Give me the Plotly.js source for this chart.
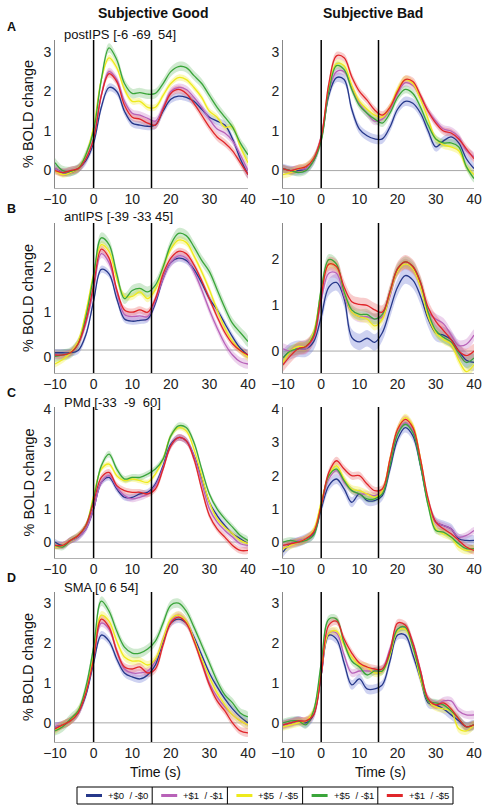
<!DOCTYPE html>
<html><head><meta charset="utf-8">
<script src="https://cdn.plot.ly/plotly-3.0.1.min.js"></script>
<style>html,body{margin:0;padding:0;background:#fff;} #chart{width:490px;height:811px;}</style>
</head><body><div id="chart"></div>
<script>
// ---------------- DATA ----------------
const time = [-10,-8,-6,-4,-2,0,2,4,6,8,10,12,14,16,18,20,22,24,26,28,30,32,34,36,38,40];
const seriesNames = ['+$0\u00a0\u00a0/ -$0','+$1\u00a0\u00a0/ -$1','+$5\u00a0\u00a0/ -$5','+$5\u00a0\u00a0/ -$1','+$1\u00a0\u00a0/ -$5'];
const columnTitles = ['Subjective Good','Subjective Bad'];
const panelLetters = ['A','B','C','D'];
const regionLabels = ['postIPS [-6 -69\u00a0\u00a054]','antIPS [-39 -33 45]','PMd [-33\u00a0\u00a0-9\u00a0\u00a060]','SMA [0 6 54]'];
const xTickVals = [-10,0,10,20,30,40];
const yTickVals = [[0,1,2,3],[0,1,2],[0,1,2,3,4],[0,1,2,3]];
const onsetTimes = [0,15];
const baselineLevels = [[0,0],[0.16,0],[0,0],[0,0]];

// series order: +$0/-$0, +$1/-$1, +$5/-$5, +$5/-$1, +$1/-$5
const A_good = [
 [0.05,-0.05,-0.05,0.05,0.25,0.7,1.6,2.1,2.0,1.5,1.2,1.15,1.12,1.15,1.5,1.8,1.88,1.85,1.75,1.55,1.35,1.25,1.15,0.8,0.3,-0.1],
 [0.05,-0.05,0,0.05,0.3,0.8,1.9,2.5,2.3,1.75,1.45,1.4,1.32,1.25,1.6,2.0,2.1,2.05,1.85,1.6,1.3,1.05,0.95,0.75,0.4,0.0],
 [0.0,-0.1,-0.05,0.05,0.4,1.1,2.3,2.85,2.6,2.05,1.75,1.75,1.6,1.6,1.9,2.2,2.35,2.3,2.1,1.85,1.5,1.35,1.1,1.1,0.6,0.2],
 [0.2,0.0,-0.02,0.05,0.4,1.0,2.3,3.1,2.8,2.2,1.95,1.97,1.93,1.95,2.2,2.5,2.63,2.6,2.4,2.2,1.9,1.6,1.35,1.1,0.7,0.4],
 [0.0,-0.05,0.0,0.05,0.3,0.8,1.9,2.45,2.25,1.65,1.35,1.3,1.2,1.15,1.55,1.95,2.05,1.95,1.7,1.4,1.1,0.85,0.7,0.5,0.2,-0.1]
];
const A_bad = [
 [0.05,0.0,0.0,0.05,0.25,0.8,1.9,2.35,2.3,1.55,1.05,0.88,0.8,0.8,1.1,1.55,1.75,1.7,1.45,1.0,0.6,0.75,0.85,0.7,0.3,0.05],
 [0.05,0.0,0.05,0.05,0.3,0.85,2.0,2.5,2.5,2.1,1.7,1.45,1.25,1.3,1.55,1.95,2.22,2.15,1.85,1.5,1.25,1.05,1.0,0.85,0.5,0.35],
 [-0.1,-0.05,0.05,0.1,0.3,0.8,2.1,2.7,2.65,2.15,1.75,1.55,1.4,1.35,1.6,2.05,2.3,2.2,1.8,1.3,0.8,0.65,0.6,0.5,0.1,-0.1],
 [0.05,0.0,-0.05,0.0,0.25,0.75,2.0,2.65,2.55,2.05,1.65,1.45,1.3,1.2,1.45,1.85,2.05,1.95,1.6,1.15,0.8,0.7,0.7,0.6,0.1,-0.2],
 [0.05,0.0,0.05,0.1,0.3,0.85,2.2,2.9,2.85,2.37,2.0,1.78,1.53,1.4,1.6,2.0,2.3,2.25,1.9,1.5,1.2,1.0,0.95,0.8,0.55,0.3]
];
const B_good = [
 [0.1,0.1,0.1,0.15,0.5,1.25,1.95,1.85,1.3,0.85,0.8,0.82,0.85,1.2,1.75,2.1,2.2,2.15,1.95,1.65,1.3,1.05,0.75,0.45,0.2,0.05],
 [0.05,0.05,0.1,0.3,0.75,1.5,2.3,2.1,1.45,0.95,0.9,0.92,0.9,1.25,1.75,2.1,2.25,2.2,1.9,1.5,1.05,0.65,0.3,0.05,-0.1,-0.15],
 [-0.15,-0.05,0.1,0.35,1.0,1.85,2.5,2.35,1.75,1.35,1.35,1.45,1.3,1.5,2.0,2.4,2.6,2.55,2.25,1.9,1.5,1.05,0.65,0.35,0.15,0.0],
 [0.02,0.05,0.1,0.3,0.9,1.8,2.65,2.5,1.85,1.3,1.48,1.53,1.45,1.6,2.0,2.5,2.75,2.7,2.45,2.15,1.9,1.5,1.1,0.75,0.55,0.35],
 [0.05,0.05,0.1,0.3,0.8,1.6,2.4,2.2,1.5,1.05,1.0,1.05,1.0,1.3,1.85,2.2,2.35,2.3,2.05,1.7,1.3,0.9,0.55,0.3,0.15,0.05]
];
const B_bad = [
 [-0.15,0.0,0.05,0.05,0.2,0.75,1.4,1.5,1.15,0.3,0.2,0.28,0.19,0.4,0.9,1.4,1.65,1.55,1.2,0.7,0.4,0.35,0.25,0.0,-0.2,-0.25],
 [0.05,0.0,0.05,0.05,0.3,1.1,1.7,1.7,1.2,0.85,0.75,0.75,0.7,0.75,1.2,1.75,1.9,1.8,1.45,0.85,0.7,0.6,0.35,0.12,0.15,0.35],
 [-0.25,0.0,0.1,0.1,0.4,1.3,1.9,1.85,1.3,0.85,0.75,0.7,0.55,0.7,1.25,1.75,1.9,1.8,1.4,0.75,0.4,0.25,0.15,-0.2,-0.45,-0.3],
 [-0.15,0.0,0.05,0.1,0.35,1.35,2.0,1.9,1.3,0.9,0.8,0.8,0.7,0.8,1.3,1.8,1.95,1.85,1.5,0.85,0.45,0.3,0.2,-0.05,-0.25,-0.15],
 [-0.3,-0.1,0.05,0.1,0.3,1.2,1.9,1.85,1.4,1.08,1.02,1.0,0.9,0.85,1.3,1.8,1.95,1.85,1.5,0.95,0.65,0.45,0.25,0.0,-0.1,0.0]
];
const C_good = [
 [0.0,-0.1,0.05,0.15,0.4,1.0,1.8,1.95,1.6,1.35,1.35,1.45,1.5,1.75,2.3,2.95,3.15,3.05,2.6,1.95,1.2,0.8,0.5,0.25,0.1,-0.05],
 [-0.1,-0.1,0.05,0.15,0.4,1.0,1.8,2.0,1.65,1.4,1.3,1.35,1.45,1.7,2.25,2.9,3.15,3.05,2.6,1.8,1.0,0.6,0.35,0.15,-0.05,-0.1],
 [-0.15,-0.1,0.05,0.2,0.5,1.4,2.2,2.35,2.0,1.85,1.9,1.85,1.8,2.05,2.5,3.2,3.45,3.35,2.8,2.0,1.2,0.7,0.45,0.25,0.05,-0.05],
 [-0.1,-0.15,0.05,0.2,0.5,1.3,2.3,2.65,2.2,1.9,1.95,1.95,2.05,2.2,2.5,3.2,3.5,3.45,3.0,2.2,1.45,1.0,0.7,0.45,0.2,0.05],
 [-0.1,-0.1,0.05,0.2,0.5,1.2,1.95,2.1,1.7,1.55,1.5,1.5,1.45,1.6,2.2,2.9,3.15,3.05,2.5,1.6,0.8,0.4,0.15,-0.1,-0.25,-0.25]
];
const C_bad = [
 [-0.3,-0.05,0.0,0.1,0.25,1.0,1.7,1.9,1.6,1.2,1.45,1.25,1.25,1.4,2.2,3.1,3.45,3.2,2.3,1.2,0.6,0.5,0.4,0.1,0.05,0.05],
 [-0.1,-0.05,0.05,0.1,0.3,1.1,1.9,2.15,1.8,1.55,1.45,1.45,1.4,1.55,2.4,3.3,3.6,3.35,2.4,1.2,0.6,0.5,0.4,0.15,0.2,0.35],
 [-0.2,-0.1,0.0,0.1,0.35,1.2,2.0,2.3,1.9,1.6,1.55,1.45,1.35,1.55,2.5,3.4,3.75,3.5,2.5,1.2,0.4,0.25,0.15,-0.15,-0.25,-0.2],
 [0.0,0.05,0.0,0.05,0.2,1.1,2.0,2.2,1.85,1.55,1.45,1.3,1.3,1.45,2.3,3.25,3.55,3.3,2.3,1.1,0.35,0.3,0.15,-0.05,-0.2,-0.2],
 [-0.1,-0.05,0.0,0.1,0.3,1.1,2.1,2.45,2.2,2.0,2.0,1.75,1.55,1.6,2.5,3.4,3.7,3.45,2.5,1.3,0.6,0.4,0.25,0.05,-0.15,-0.25]
];
const D_good = [
 [-0.1,-0.05,0.05,0.25,0.7,1.5,2.2,2.05,1.6,1.25,1.15,1.1,1.2,1.45,2.05,2.5,2.6,2.5,2.15,1.7,1.25,0.9,0.6,0.35,0.15,0.0],
 [-0.1,-0.05,0.05,0.25,0.75,1.6,2.5,2.35,1.8,1.35,1.25,1.25,1.3,1.55,2.1,2.55,2.7,2.55,2.1,1.55,1.0,0.65,0.4,0.2,0.05,-0.05],
 [-0.2,-0.05,0.05,0.3,0.8,1.7,2.7,2.55,2.05,1.65,1.55,1.55,1.45,1.6,2.1,2.6,2.7,2.55,2.1,1.6,1.15,0.75,0.45,0.2,0.05,-0.05],
 [-0.2,-0.1,0.1,0.3,0.9,1.9,3.05,2.8,2.3,1.9,1.75,1.75,1.85,2.05,2.5,2.95,3.0,2.8,2.4,1.95,1.5,1.05,0.7,0.5,0.25,0.15],
 [-0.15,-0.05,0.05,0.25,0.75,1.6,2.6,2.4,1.8,1.4,1.35,1.4,1.25,1.35,1.95,2.5,2.65,2.5,2.05,1.5,0.95,0.55,0.3,0.0,-0.2,-0.25]
];
const D_bad = [
 [-0.05,0.0,0.05,0.0,0.2,1.2,2.2,2.1,1.5,0.95,1.1,0.85,0.85,0.95,1.55,2.2,2.2,1.7,1.1,0.5,0.45,0.35,0.2,0.05,-0.1,-0.05],
 [-0.05,0.0,0.05,0.05,0.25,1.2,2.25,2.25,1.7,1.25,1.3,1.3,1.3,1.35,1.85,2.35,2.4,2.0,1.3,0.6,0.45,0.55,0.55,0.3,0.2,0.2],
 [-0.1,-0.05,0.0,0.05,0.3,1.3,2.25,2.3,1.95,1.65,1.45,1.4,1.25,1.3,1.7,2.3,2.35,1.9,1.1,0.55,0.4,0.35,0.3,-0.15,-0.2,-0.05],
 [0.0,0.05,0.05,-0.05,0.3,1.5,2.6,2.6,2.0,1.55,1.4,1.2,1.3,1.3,1.75,2.35,2.4,1.9,1.2,0.55,0.5,0.45,0.3,0.1,-0.1,-0.05],
 [-0.05,0.0,0.05,0.05,0.2,1.2,2.45,2.55,2.1,1.75,1.5,1.4,1.35,1.35,1.8,2.5,2.45,2.0,1.3,0.6,0.45,0.5,0.35,0.1,-0.1,-0.05]
];
// standard-error half widths per series
const A_good_sem = [0.1,0.1,0.08,0.12,0.1];
const A_bad_sem  = [0.12,0.1,0.1,0.1,0.1];
const B_good_sem = [0.08,0.1,0.08,0.12,0.08];
const B_bad_sem  = [0.18,0.12,0.1,0.12,0.15];
const C_good_sem = [0.1,0.1,0.08,0.1,0.1];
const C_bad_sem  = [0.15,0.1,0.12,0.1,0.12];
const D_good_sem = [0.1,0.1,0.1,0.12,0.1];
const D_bad_sem  = [0.12,0.1,0.1,0.1,0.1];

// ---------------- STYLE / LAYOUT ----------------
const panels = [
  [A_good, A_good_sem], [A_bad, A_bad_sem],
  [B_good, B_good_sem], [B_bad, B_bad_sem],
  [C_good, C_good_sem], [C_bad, C_bad_sem],
  [D_good, D_good_sem], [D_bad, D_bad_sem]
];
const lineColors = ['#26388a','#b862b8','#eeea1c','#3aa53a','#e0262a'];
const bandColors = ['rgba(80,95,205,0.28)','rgba(195,110,195,0.3)','rgba(245,240,70,0.38)','rgba(100,185,100,0.3)','rgba(232,85,85,0.3)'];
const W = 490, H = 811;
const FONT = 'Liberation Sans, Arial, Helvetica, sans-serif';
const colX = [[55,248],[283,474]];
const rowY = [[40,188],[223,373],[407,558],[592,742]];
const yRanges = [[[-0.44,3.3],[-0.44,3.3]],[[-0.35,2.98],[-0.48,2.8]],[[-0.48,4.07],[-0.48,4.07]],[[-0.48,3.28],[-0.48,3.28]]];

const bandTraces = [], lineTraces = [];
const layout = {
  width: W, height: H, margin: {l:0,r:0,t:0,b:0},
  paper_bgcolor: '#fff', plot_bgcolor: 'rgba(0,0,0,0)',
  showlegend: false, font: {family: FONT, color: '#222'},
  shapes: [], annotations: []
};

panels.forEach((p, i) => {
  const r = Math.floor(i/2), c = i % 2;
  const n = i + 1;
  const xa = 'x' + (n===1?'':n), ya = 'y' + (n===1?'':n);
  const [vals, sem] = p;
  vals.forEach((v, s) => {
    const up = v.map(d => d + sem[s]);
    const lo = v.map(d => d - sem[s]).reverse();
    bandTraces.push({
      x: time.concat(time.slice().reverse()), y: up.concat(lo),
      xaxis: xa, yaxis: ya, type: 'scatter', mode: 'lines', fill: 'toself',
      fillcolor: bandColors[s], line: {width: 0, shape: 'spline', smoothing: 1},
      hoverinfo: 'skip'
    });
    lineTraces.push({
      x: time, y: v, xaxis: xa, yaxis: ya, type: 'scatter', mode: 'lines',
      name: seriesNames[s],
      line: {color: lineColors[s], width: 1.3, shape: 'spline', smoothing: 1}
    });
  });
  layout['xaxis' + (n===1?'':n)] = {
    domain: [colX[c][0]/W, colX[c][1]/W], range: [-10, 40], anchor: ya,
    tickvals: xTickVals, ticks: '', ticklabelstandoff: -2, showline: true, linecolor: '#b0b0b0', linewidth: 1,
    showgrid: false, zeroline: false, tickfont: {size: 14, color: '#222'}, fixedrange: true
  };
  layout['yaxis' + (n===1?'':n)] = {
    domain: [1 - rowY[r][1]/H, 1 - rowY[r][0]/H], range: yRanges[r][c], anchor: xa,
    tickvals: yTickVals[r], ticks: '', ticklabelstandoff: 0, showline: true, linecolor: '#888', linewidth: 1,
    showgrid: false, zeroline: false, tickfont: {size: 14, color: '#222'}, fixedrange: true
  };
  layout.shapes.push({type:'line', layer:'below', xref: xa + ' domain', x0: 0, x1: 1, yref: ya,
    y0: baselineLevels[r][c], y1: baselineLevels[r][c], line: {color: '#a8a8a8', width: 1}});
  onsetTimes.forEach(t => layout.shapes.push({type:'line', xref: xa, x0: t, x1: t,
    yref: ya + ' domain', y0: 0, y1: 1, line: {color: '#000', width: 1.5}}));
});

// text
columnTitles.forEach((t, c) => layout.annotations.push({
  text: '<b>' + t + '</b>', xref: 'paper', yref: 'paper', x: [153,373][c]/W, y: 1 - 13/H,
  xanchor: 'center', yanchor: 'middle', showarrow: false, font: {size: 14, family: FONT, color: '#111'}
}));
const letterY = [27, 209, 393, 578];
const regionY = [34, 216, 402, 587];
const rowCenters = rowY.map(rr => (rr[0] + rr[1]) / 2);
panelLetters.forEach((l, r) => {
  layout.annotations.push({text: '<b>' + l + '</b>', xref:'paper', yref:'paper', x: 11/W, y: 1 - letterY[r]/H,
    xanchor:'center', yanchor:'middle', showarrow:false, font:{size: 12.5, family: FONT, color:'#111'}});
  layout.annotations.push({text: regionLabels[r], xref:'paper', yref:'paper', x: 62/W, y: 1 - regionY[r]/H,
    xanchor:'left', yanchor:'middle', showarrow:false, font:{size: 13, family: FONT, color:'#111'}});
  layout.annotations.push({text: '% BOLD change', xref:'paper', yref:'paper', x: 28/W, y: 1 - rowCenters[r]/H,
    xanchor:'center', yanchor:'middle', textangle: -90, showarrow:false, font:{size: 14.5, family: FONT, color:'#111'}});
});
[155, 380].forEach(cx => layout.annotations.push({text: 'Time (s)', xref:'paper', yref:'paper', x: cx/W, y: 1 - 772/H,
  xanchor:'center', yanchor:'middle', showarrow:false, font:{size: 14, family: FONT, color:'#111'}}));

// legend box built from series
const legL = 77, legR = 453, legT = 787, legB = 804;
const cellW = (legR - legL) / seriesNames.length;
layout.shapes.push({type:'rect', xref:'paper', yref:'paper', x0: legL/W, x1: legR/W, y0: 1 - legB/H, y1: 1 - legT/H,
  line:{color:'#000', width:1}, fillcolor:'rgba(0,0,0,0)'});
seriesNames.forEach((nm, s) => {
  const x0 = legL + s * cellW;
  if (s > 0) layout.shapes.push({type:'line', xref:'paper', yref:'paper', x0: x0/W, x1: x0/W, y0: 1 - legB/H, y1: 1 - legT/H,
    line:{color:'#000', width:1}});
  const ym = 1 - ((legT + legB) / 2) / H;
  layout.shapes.push({type:'line', xref:'paper', yref:'paper', x0: (x0 + 9)/W, x1: (x0 + 25)/W, y0: ym, y1: ym,
    line:{color: lineColors[s], width: 3}});
  layout.annotations.push({text: nm, xref:'paper', yref:'paper', x: (x0 + 29)/W, y: ym, xanchor:'left', yanchor:'middle',
    showarrow:false, font:{size: 9.5, family: FONT, color:'#111'}});
});

Plotly.newPlot('chart', bandTraces.concat(lineTraces), layout, {staticPlot: true, displayModeBar: false});
</script>
</body></html>
